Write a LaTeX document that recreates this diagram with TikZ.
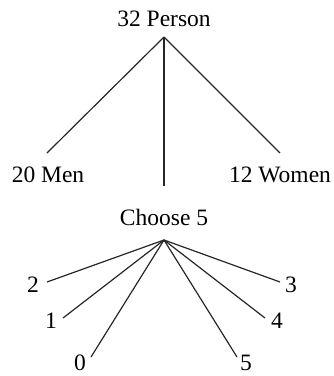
\documentclass[tikz,border=0pt]{standalone}
\usepackage{fontspec}
\setmainfont{Liberation Serif}
\begin{document}
\begin{tikzpicture}[x=1pt,y=-1pt,
  lbl/.style={inner sep=0pt,font=\fontsize{23.5}{28}\selectfont},
  conn/.style={line width=1.2pt,black!85}]
\useasboundingbox (0,0) rectangle (334,376);
\node[lbl] (p) at (164,19) {32 Person};
\node[lbl] (m) at (48,175) {20 Men};
\node[lbl] (w) at (280,175) {12 Women};
\node[lbl] (c) at (164,217) {Choose 5};
\coordinate (pa) at (164,37);
\coordinate (me) at (47,153);
\coordinate (we) at (280,153);
\coordinate (ce) at (164,186);
\draw[conn] (pa) -- (me);
\draw[conn] (pa) -- (we);
\draw[conn] (pa) -- (ce);
\coordinate (ca) at (164,240);
\node[lbl] (n2) at (33,285) {2};
\node[lbl] (n1) at (51,321) {1};
\node[lbl] (n0) at (80,363) {0};
\node[lbl] (n5) at (246,363) {5};
\node[lbl] (n4) at (277,321) {4};
\node[lbl] (n3) at (291,285) {3};
\coordinate (e2) at (47,282);
\coordinate (e1) at (63,318);
\coordinate (e0) at (91,357);
\coordinate (e5) at (237,357);
\coordinate (e4) at (265,318);
\coordinate (e3) at (280,282);
\foreach \e in {e2,e1,e0,e5,e4,e3} \draw[conn] (ca) -- (\e);
\end{tikzpicture}
\end{document}
